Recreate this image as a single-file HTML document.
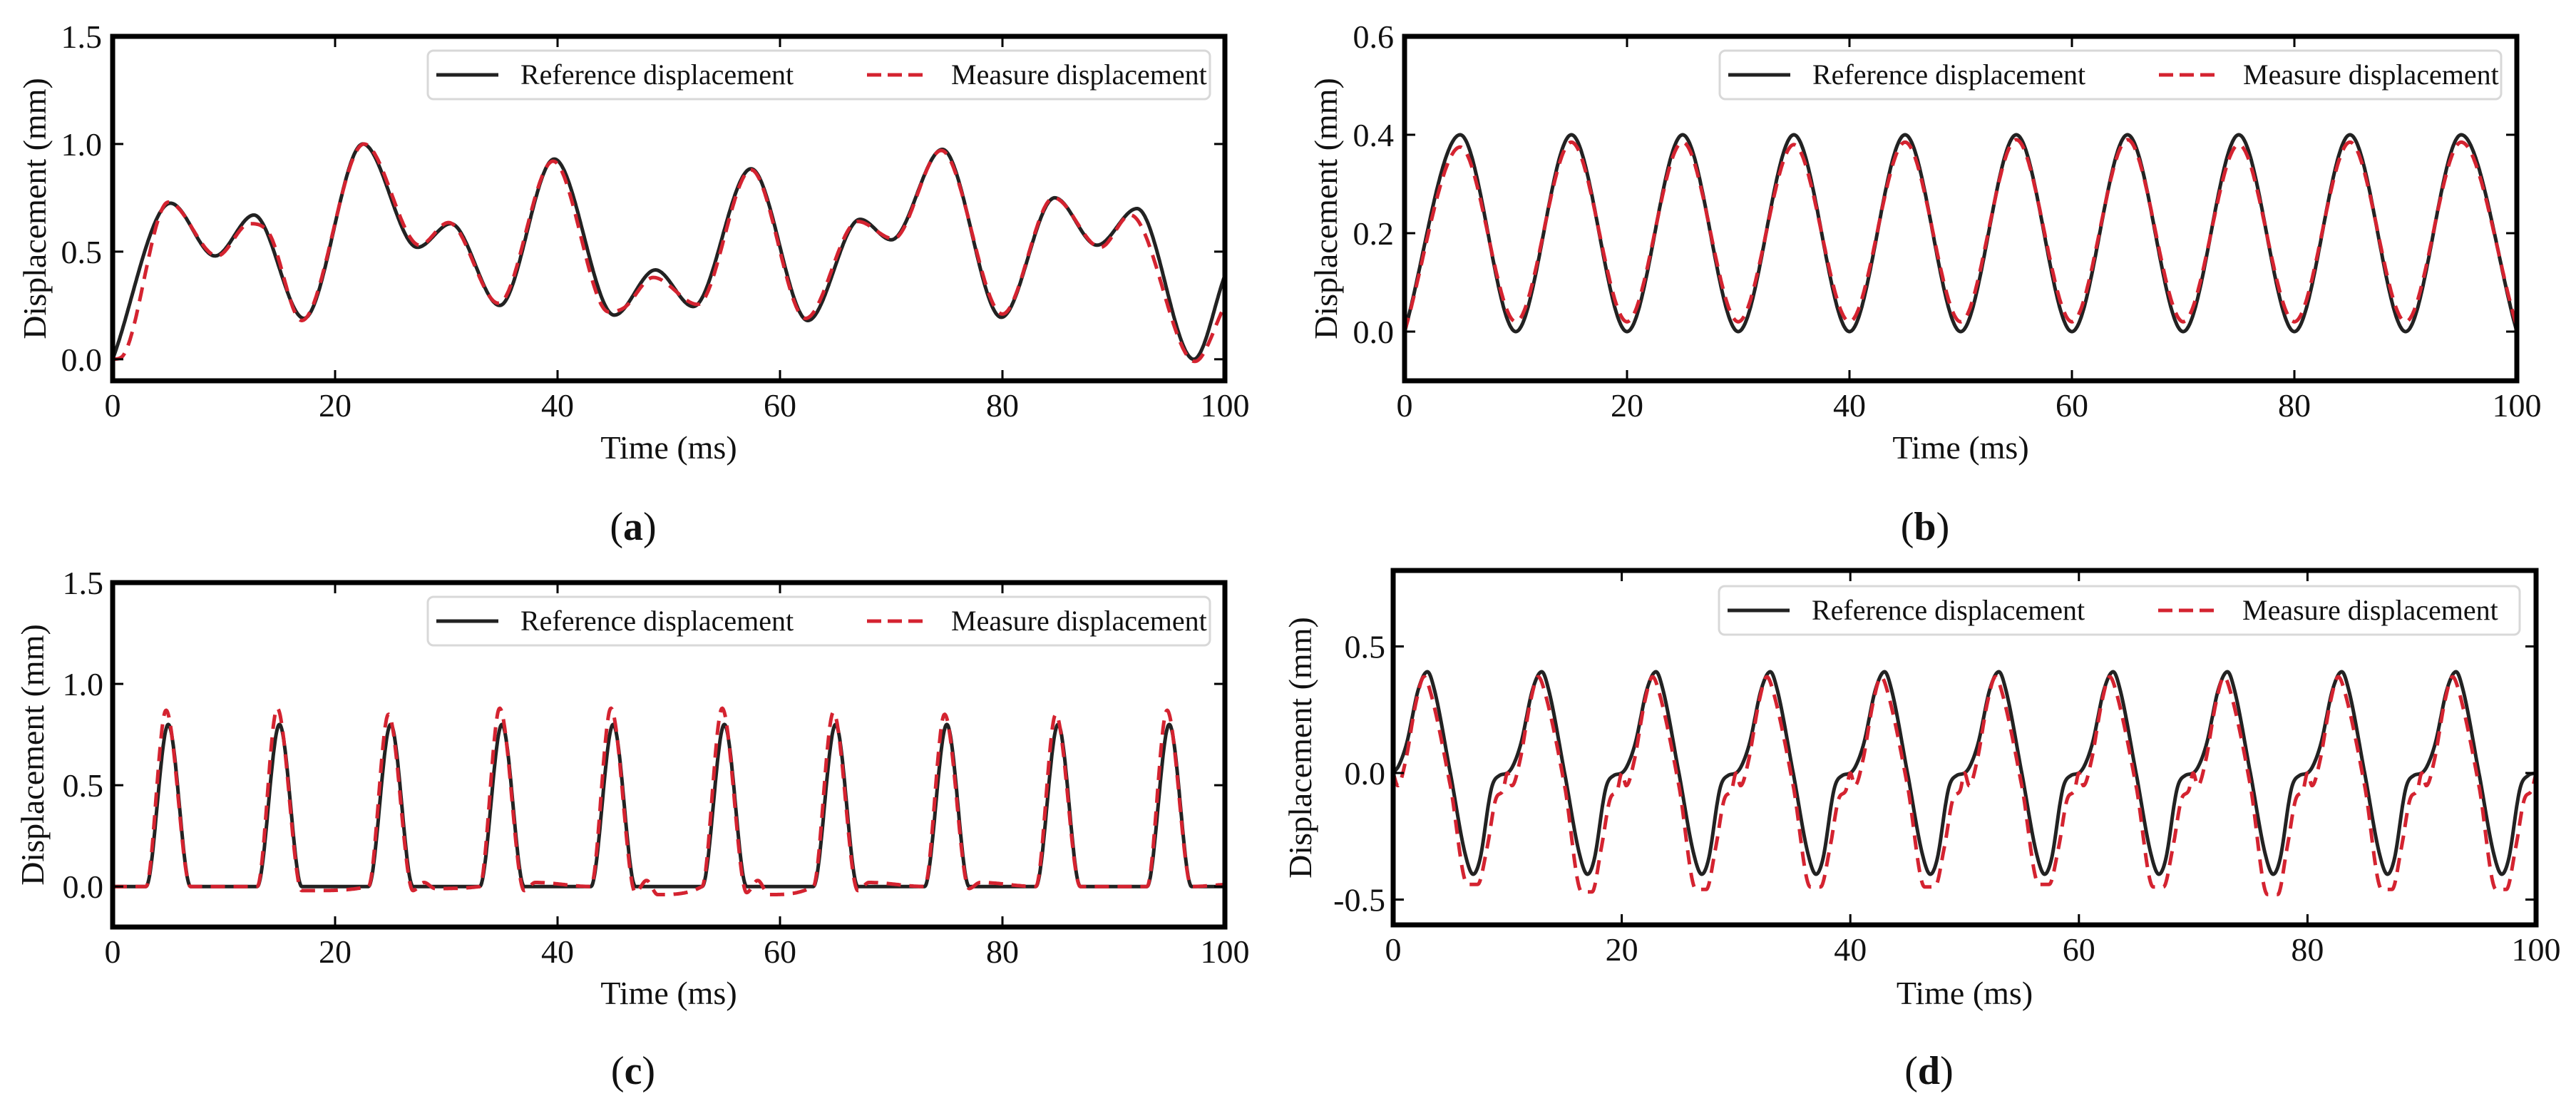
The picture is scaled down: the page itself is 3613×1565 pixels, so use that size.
<!DOCTYPE html>
<html><head><meta charset="utf-8">
<style>
html,body{margin:0;padding:0;background:#fff;}
svg{display:block;}
text{font-family:"Liberation Serif",serif;fill:#111;}
</style></head>
<body>
<svg id="fig" width="3613" height="1565" viewBox="0 0 3613 1565" xmlns="http://www.w3.org/2000/svg"></svg>
<script>
// ---------- Panel (a) data: extrema points ----------
const aRefT = [0, 5.2, 9.2, 12.7, 17.2, 22.5, 27.4, 30.4, 34.8, 39.7, 45.1, 48.8, 52.2, 57.4, 62.5, 67.2, 70.0, 74.6, 79.9, 84.7, 88.5, 92.1, 97.2, 100];
const aRefV = [0, 0.725, 0.48, 0.67, 0.19, 1.0, 0.52, 0.63, 0.25, 0.93, 0.205, 0.415, 0.245, 0.885, 0.18, 0.65, 0.555, 0.975, 0.195, 0.75, 0.53, 0.70, 0.0, 0.39];
const aMeaT = [0, 0.8, 5.0, 9.4, 12.3, 14.0, 17.0, 22.6, 27.6, 30.2, 34.7, 39.6, 44.6, 46.0, 48.6, 52.6, 57.4, 62.3, 67.0, 70.2, 74.5, 80.0, 84.6, 88.8, 91.5, 97.3, 100];
const aMeaV = [0, 0.01, 0.73, 0.48, 0.63, 0.59, 0.18, 1.0, 0.53, 0.635, 0.26, 0.92, 0.22, 0.24, 0.38, 0.255, 0.88, 0.19, 0.64, 0.56, 0.97, 0.21, 0.75, 0.52, 0.67, -0.01, 0.25];

// ---------- Panel (b) data ----------
const bRefT = [0,5,10,15,20,25,30,35,40,45,50,55,60,65,70,75,80,85,90,95,100];
const bRefV = [0,0.4,0,0.4,0,0.4,0,0.4,0,0.4,0,0.4,0,0.4,0,0.4,0,0.4,0,0.4,0];
const bMeaT = [0,5,10,15,20,25,30,35,40,45,50,55,60,65,70,75,80,85,90,95,100];
const bMeaV = [0,0.375,0.02,0.385,0.02,0.385,0.02,0.38,0.02,0.385,0.02,0.39,0.02,0.39,0.02,0.38,0.02,0.385,0.02,0.385,0.01];

// ---------- Panel (c) data: pulse keypoints ----------
const cRefT = [0,3,5,7,13,15,17,23,25,27,33,35,37,43,45,47,53,55,57,63,65,67,73,75,77,83,85,87,93,95,97,100];
const cRefV = [0,0,0.8,0,0,0.8,0,0,0.8,0,0,0.8,0,0,0.8,0,0,0.8,0,0,0.8,0,0,0.8,0,0,0.8,0,0,0.8,0,0];
const cMeaT = [0,3,4.8,7,13,14.8,17,18,23,24.8,27,28,29,33,34.8,37,38,43,44.8,47,48,49,53,54.8,57,58,59,63,64.8,67,68,73,74.8,77,78,83,84.8,87,93,94.8,97,100];
const cMeaV = [0,0,0.87,0,0,0.88,-0.02,-0.02,0,0.85,-0.02,0.02,-0.01,0,0.88,-0.02,0.02,0,0.88,-0.03,0.03,-0.04,0,0.88,-0.03,0.03,-0.04,0,0.86,-0.02,0.02,0,0.85,-0.01,0.02,0,0.85,0,0,0.87,0,0.01];

// ---------- Panel (d) data: one-period shape + per-cycle amplitudes ----------
const dPhase   = [0, 0.5, 1.2, 2.2, 3.0, 3.6, 5.0, 6.3, 7.0, 7.6, 8.6, 9.3];
const dRefShape= [0, 0.03, 0.12, 0.33, 0.40, 0.33, 0.0, -0.32, -0.40, -0.34, -0.06, -0.01];
const dMeaPhase= [0, 0.4, 1.1, 2.0, 2.7, 3.2, 5.0, 6.5, 7.4, 8.2, 9.0, 9.6];
const dMeaShape= [0, -0.05, 0.05, 0.28, 0.38, 0.33, -0.05, -0.38, -0.46, -0.30, -0.10, -0.07];
const dMeaTrough=[-0.44,-0.47,-0.46,-0.45,-0.45,-0.44,-0.45,-0.48,-0.46,-0.46];

// ---------- Tick labels ----------
const xTicks = [0,20,40,60,80,100];
const aYTicks = [0.0,0.5,1.0,1.5];
const bYTicks = [0.0,0.2,0.4,0.6];
const cYTicks = [0.0,0.5,1.0,1.5];
const dYTicks = [-0.5,0.0,0.5];

const NS = "http://www.w3.org/2000/svg";
const svg = document.getElementById('fig');
function mk(tag, attrs, parent){
  const e = document.createElementNS(NS, tag);
  for (const k in attrs) e.setAttribute(k, attrs[k]);
  (parent||svg).appendChild(e);
  return e;
}
// monotone cubic interpolation
function monotone(xs, ys){
  const n = xs.length, d = [], m = [];
  for (let i=0;i<n-1;i++) d.push((ys[i+1]-ys[i])/(xs[i+1]-xs[i]));
  m.push(d[0]);
  for (let i=1;i<n-1;i++){ m.push(d[i-1]*d[i] <= 0 ? 0 : (d[i-1]+d[i])/2); }
  m.push(d[n-2]);
  for (let i=0;i<n-1;i++){
    if (d[i]===0){ m[i]=0; m[i+1]=0; continue; }
    const a=m[i]/d[i], b=m[i+1]/d[i], s=a*a+b*b;
    if (s>9){ const t=3/Math.sqrt(s); m[i]=t*a*d[i]; m[i+1]=t*b*d[i]; }
  }
  return function(x){
    let i=0; while(i<n-2 && x>xs[i+1]) i++;
    const h=xs[i+1]-xs[i], t=(x-xs[i])/h, t2=t*t, t3=t2*t;
    return (2*t3-3*t2+1)*ys[i]+(t3-2*t2+t)*h*m[i]+(-2*t3+3*t2)*ys[i+1]+(t3-t2)*h*m[i+1];
  };
}
function buildPeriodic(phase, shape, troughs){
  const T=[],V=[];
  for (let k=0;k<10;k++){
    for (let j=0;j<phase.length;j++){
      T.push(k*10+phase[j]);
      let v = shape[j];
      if (troughs && v < -0.35) v = troughs[k];
      V.push(v);
    }
  }
  T.push(100); V.push(0);
  return [T,V];
}

function panel(cfg){
  const g = mk('g', {});
  
  
  const L=cfg.L, R=cfg.R, T=cfg.T, B=cfg.B;
  const xs = t => L + (t-0)/(100)*(R-L);
  const ys = v => B - (v-cfg.ymin)/(cfg.ymax-cfg.ymin)*(B-T);
  // clip
  const cid = cfg.name+'-clip';
  const defs = mk('defs',{},g);
  const cp = mk('clipPath',{id:cid},defs);
  mk('rect',{x:L,y:T,width:R-L,height:B-T},cp);
  // series
  function drawSeries(tArr, vArr, attrs, nm){
    const f = monotone(tArr, vArr);
    let d='';
    for (let i=0;i<=1600;i++){
      const t = i/1600*100;
      d += (i?'L':'M') + xs(t).toFixed(1) + ' ' + ys(f(t)).toFixed(1);
    }
    const p = mk('path', Object.assign({d:d, fill:'none', 'clip-path':'url(#'+cid+')', 'stroke-linejoin':'round'}, attrs), g);
    
    
  }
  drawSeries(cfg.refT, cfg.refV, {stroke:'#222', 'stroke-width':5}, 'reference-line');
  drawSeries(cfg.meaT, cfg.meaV, {stroke:'#d42330', 'stroke-width':5, 'stroke-dasharray':'20 12'}, 'measure-line');
  // frame
  const fr = mk('rect',{x:L,y:T,width:R-L,height:B-T,fill:'none',stroke:'#000','stroke-width':7},g);
  
  
  // x ticks
  xTicks.forEach(t=>{
    const x=xs(t);
    if (t>0 && t<100){
      mk('line',{x1:x,y1:B,x2:x,y2:B-15,stroke:'#000','stroke-width':3},g);
      mk('line',{x1:x,y1:T,x2:x,y2:T+15,stroke:'#000','stroke-width':3},g);
    }
    const tx = mk('text',{x:x,y:B+50,'font-size':46,'text-anchor':'middle'},g);
    tx.textContent = String(t);
    
    
  });
  cfg.yTicks.forEach(v=>{
    const y=ys(v);
    mk('line',{x1:L,y1:y,x2:L+15,y2:y,stroke:'#000','stroke-width':3},g);
    mk('line',{x1:R,y1:y,x2:R-15,y2:y,stroke:'#000','stroke-width':3},g);
    const tx = mk('text',{x:cfg.ytx,y:y+16,'font-size':46,'text-anchor':'end'},g);
    tx.textContent = v.toFixed(1);
    
    
  });
  // axis titles
  const xt = mk('text',{x:(L+R)/2,y:cfg.timeY+15,'font-size':46,'text-anchor':'middle'},g);
  xt.textContent='Time (ms)';
  
  
  const yc=(T+B)/2;
  const yt = mk('text',{x:cfg.ytitleX,y:yc,'font-size':46,'text-anchor':'middle',transform:'rotate(-90 '+cfg.ytitleX+' '+yc+')',dy:'15'},g);
  yt.textContent='Displacement (mm)';
  
  
  // legend
  const lg = mk('g',{},g);
  
  
  const LL=cfg.legL, LT=cfg.legT, LW=cfg.legW, LH=68;
  mk('rect',{x:LL,y:LT,width:LW,height:LH,rx:8,fill:'#fff',stroke:'#d8d8d8','stroke-width':3},lg);
  const cy=LT+LH/2;
  mk('line',{x1:LL+12,y1:cy,x2:LL+99,y2:cy,stroke:'#222','stroke-width':5},lg);
  const t1=mk('text',{x:LL+130,y:cy+13,'font-size':40},lg);
  t1.textContent='Reference displacement';
  
  
  mk('line',{x1:LL+616,y1:cy,x2:LL+694,y2:cy,stroke:'#d42330','stroke-width':5,'stroke-dasharray':'20 9'},lg);
  const t2=mk('text',{x:LL+734,y:cy+13,'font-size':40},lg);
  t2.textContent='Measure displacement';
  
  
  // panel label
  const pl = mk('text',{x:(L+R)/2-50,y:cfg.labY+20,'font-size':56,'text-anchor':'middle'},g);
  pl.innerHTML = '(<tspan font-weight="bold">'+cfg.letter+'</tspan>)';
  
  
}

const dRef = buildPeriodic(dPhase, dRefShape, null);
const dMea = buildPeriodic(dMeaPhase, dMeaShape, dMeaTrough);

panel({name:'panel-a',letter:'a',L:158,R:1718,T:51,B:534,ymin:-0.1,ymax:1.5,yTicks:aYTicks,
  refT:aRefT,refV:aRefV,meaT:aMeaT,meaV:aMeaV,ytx:143,ytitleX:49,timeY:628,labY:737,
  legL:600,legT:71,legW:1097});
panel({name:'panel-b',letter:'b',L:1970,R:3530,T:51,B:534,ymin:-0.1,ymax:0.6,yTicks:bYTicks,
  refT:bRefT,refV:bRefV,meaT:bMeaT,meaV:bMeaV,ytx:1955,ytitleX:1860,timeY:628,labY:737,
  legL:2412,legT:71,legW:1096});
panel({name:'panel-c',letter:'c',L:158,R:1718,T:817,B:1300,ymin:-0.2,ymax:1.5,yTicks:cYTicks,
  refT:cRefT,refV:cRefV,meaT:cMeaT,meaV:cMeaV,ytx:145,ytitleX:46,timeY:1393,labY:1500,
  legL:600,legT:837,legW:1097});
panel({name:'panel-d',letter:'d',L:1954,R:3557,T:800,B:1297,ymin:-0.6,ymax:0.8,yTicks:dYTicks,
  refT:dRef[0],refV:dRef[1],meaT:dMea[0],meaV:dMea[1],ytx:1943,ytitleX:1824,timeY:1393,labY:1500,
  legL:2411,legT:822,legW:1123});
</script>
</body></html>
